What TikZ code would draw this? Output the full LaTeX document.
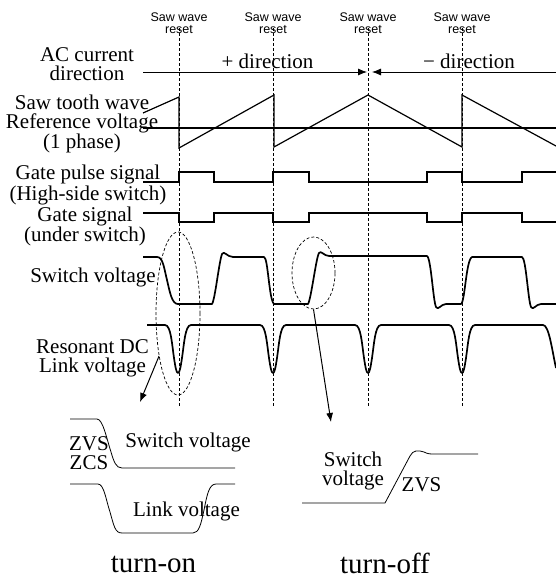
\documentclass[tikz,border=0pt]{standalone}
\usepackage{fontspec}
\setmainfont{Liberation Serif}
\setsansfont{Liberation Sans}
\usetikzlibrary{arrows.meta,shapes.geometric}

\begin{document}
\begin{tikzpicture}[x=1pt, y=-1pt, >={Latex[length=9pt,width=7pt]}]
  \tikzstyle{lbl}=[align=center, inner sep=0pt, font=\fontsize{21}{19}\selectfont]
  \tikzstyle{small}=[align=center, inner sep=0pt, font=\sffamily\fontsize{12.5}{12}\selectfont]
  \tikzstyle{big}=[inner sep=0pt, font=\fontsize{29}{30}\selectfont]
  \tikzstyle{wave}=[line width=1.7pt, line join=round]
  \tikzstyle{signal}=[line width=1.2pt, line join=miter]
  \tikzstyle{thinwave}=[line width=0.8pt]
  \tikzstyle{marker}=[dash pattern=on 3pt off 2pt, line width=0.7pt]
  \useasboundingbox (0,0) rectangle (556,578);

  % reset instants
  \foreach \x [count=\i] in {179,273,368,462} {
    \node[small] (reset\i) at (\x,23) {Saw wave\\reset};
    \draw[marker] (\x,28) -- (\x,407);
  }

  % left labels
  \node[lbl] (aclbl)   at (87,64)    {AC current\\direction};
  \node[lbl] (sawlbl)  at (82,124)   {Saw tooth wave\\Reference voltage\\(1 phase)};
  \node[lbl] (hilbl)   at (88,185)   {Gate pulse signal\\(High-side switch)};
  \node[lbl] (lolbl)   at (85,226)   {Gate signal\\(under switch)};
  \node[lbl] (swlbl)   at (93,277)   {Switch voltage};
  \node[lbl] (linklbl) at (92.5,358) {Resonant DC\\Link voltage};

  % current direction
  \coordinate (acl) at (143,72);
  \coordinate (acm) at (368,72);
  \coordinate (acr) at (556,72);
  \draw[->, line width=0.8pt] (acl) -- ([xshift=-1pt]acm);
  \draw[->, line width=0.8pt] (acr) -- ([xshift=4pt]acm);
  \node[lbl] (plusdir)  at (267.5,61) {+ direction};
  \node[lbl] (minusdir) at (469,61)   {− direction};

  % saw tooth and reference
  \draw[line width=1.1pt] (143,128) -- (556,128);
  \draw[signal] (143,113) -- (179,97) -- (179,148) -- (274,95) -- (274,147)
    -- (368,95) -- (462,147) -- (462,95) -- (556,146);

  % gate signals
  \draw[signal] (143,182) -- (179,182) -- (179,172) -- (214,172) -- (214,182)
    -- (273,182) -- (273,172) -- (309,172) -- (309,182) -- (427,182)
    -- (427,172) -- (462,172) -- (462,182) -- (522,182) -- (522,172) -- (556,172);
  \draw[signal] (143,213) -- (179,213) -- (179,222) -- (214,222) -- (214,213)
    -- (273,213) -- (273,222) -- (309,222) -- (309,213) -- (427,213)
    -- (427,222) -- (462,222) -- (462,213) -- (522,213) -- (522,222) -- (556,222);

  % switch voltage
  \draw[wave] (143,257) -- (157,257) .. controls (163,257) and (164,268) .. (167,280)
    .. controls (170,293) and (172,304) .. (178,304) -- (212,304)
    .. controls (215,300) and (219,262) .. (222,254) .. controls (224,250) and (227,257) .. (233,257)
    -- (264,257) .. controls (268,257) and (269,300) .. (274,304) -- (308,304)
    .. controls (311,300) and (316,258) .. (319,253) .. controls (321,250) and (324,256) .. (329,256)
    -- (427,256) .. controls (431,258) and (433,300) .. (436,307) .. controls (438,311) and (441,304) .. (446,304)
    -- (461,304) .. controls (465,302) and (466,260) .. (472,257)
    -- (522,257) .. controls (526,258) and (528,300) .. (531,307) .. controls (533,311) and (536,304) .. (541,304)
    -- (556,304);

  % resonant link voltage
  \draw[wave] (147,325) foreach \c in {178,273,368,462} {
      -- (\c-13,325) .. controls (\c-7,325) and (\c-6,345) .. (\c-4,358)
      .. controls (\c-2.5,368) and (\c-1.5,373) .. (\c,373)
      .. controls (\c+1.5,373) and (\c+2.5,368) .. (\c+4,358)
      .. controls (\c+6,345) and (\c+7,325) .. (\c+13,325) }
    -- (543,325) .. controls (549,325) and (552,350) .. (556,368);

  % zoomed regions
  \node[ellipse, draw, marker, inner sep=0pt, minimum width=44pt, minimum height=163pt] (onzone) at (178,313.5) {};
  \node[ellipse, draw, marker, inner sep=0pt, minimum width=43pt, minimum height=72pt] (offzone) at (313.5,273) {};
  \coordinate (ontip) at (140,402);
  \coordinate (offtip) at (331,422);
  \draw[->, line width=1pt] (onzone.246) -- (ontip);
  \draw[->, line width=1pt] (offzone.south) -- (offtip);

  % turn-on detail
  \draw[thinwave] (70,419) -- (97,419) .. controls (103,419) and (107,440) .. (111,452)
    .. controls (114,462) and (116,468) .. (122,468) -- (235,468);
  \draw[thinwave] (70,484) -- (98,484) .. controls (104,484) and (106,500) .. (110,512)
    .. controls (114,526) and (115,533) .. (122,533) -- (193,533)
    .. controls (199,533) and (201,524) .. (204,510) .. controls (207,495) and (209,484) .. (216,484)
    -- (235,484);
  \node[lbl] (zvson)  at (89,453)    {ZVS\\ZCS};
  \node[lbl] (swon)   at (188,442.7) {Switch voltage};
  \node[lbl] (linkon) at (186.5,511) {Link voltage};
  \node[big] (turnon) at (153.5,564) {turn-on};

  % turn-off detail
  \draw[thinwave] (302,503) -- (385,503) -- (410,456) .. controls (413,450) and (418,450) .. (424,452)
    .. controls (428,454) and (430,454) .. (434,454) -- (478,454);
  \node[lbl] (swoff)  at (353,471)   {Switch\\voltage};
  \node[lbl] (zvsoff) at (421.5,485) {ZVS};
  \node[big] (turnoff) at (385,563)  {turn-off};
\end{tikzpicture}
\end{document}
